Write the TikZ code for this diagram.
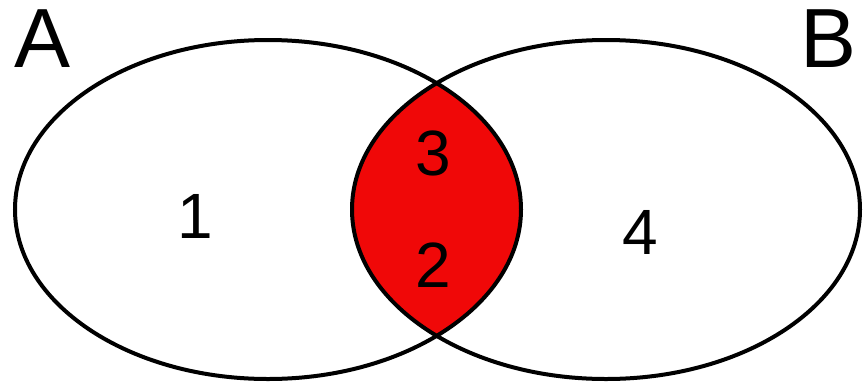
\documentclass[tikz,border=0pt]{standalone}
\usepackage{fontspec}
\setmainfont{Liberation Sans}
\definecolor{vennred}{RGB}{240,8,8}
\tikzset{
  setline/.style={line width=4pt, draw=black},
  biglabel/.style={inner sep=0pt, anchor=base, font=\fontsize{84}{84}\selectfont},
  numlabel/.style={inner sep=0pt, anchor=base, font=\fontsize{64}{64}\selectfont}
}
\begin{document}
\begin{tikzpicture}[x=1pt,y=-1pt]
\useasboundingbox (0,0) rectangle (868,381);
\coordinate (cA) at (268,209.5);
\coordinate (cB) at (606,209.5);
\begin{scope}
  \clip (cA) ellipse [x radius=253, y radius=169.5];
  \fill[vennred] (cB) ellipse [x radius=254, y radius=169.5];
\end{scope}
\draw[setline] (cA) ellipse [x radius=253, y radius=169.5];
\draw[setline] (cB) ellipse [x radius=254, y radius=169.5];
\node[biglabel] (labA) at (43,67) {A};
\node[biglabel] (labB) at (829,67) {B};
\node[numlabel] (n1) at (195,238) {1};
\node[numlabel] (n3) at (433,175) {3};
\node[numlabel] (n2) at (433,287) {2};
\node[numlabel] (n4) at (640,254) {4};
\end{tikzpicture}
\end{document}
